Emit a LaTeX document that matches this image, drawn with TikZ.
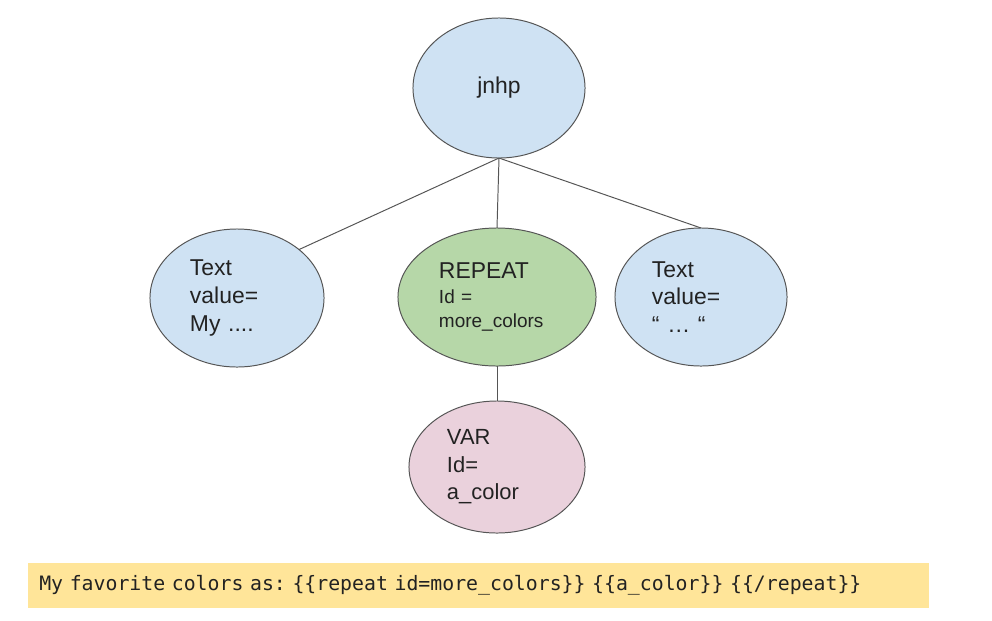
\documentclass[tikz,border=0pt]{standalone}
\usepackage{fontspec}
\setmainfont{Liberation Sans}
\newfontfamily\codefont{DejaVu Sans Mono}
\usetikzlibrary{shapes.geometric}
\usepackage{xcolor}
\definecolor{nodeblue}{HTML}{CFE2F3}
\definecolor{nodegreen}{HTML}{B6D7A8}
\definecolor{nodepink}{HTML}{EAD1DC}
\definecolor{codeyellow}{HTML}{FFE599}
\definecolor{linegray}{HTML}{555555}
\definecolor{textgray}{HTML}{222222}

\begin{document}
\begin{tikzpicture}[x=0.025cm,y=-0.025cm]
    \useasboundingbox (0,0) rectangle (992,620);
    \begin{scope}[inner sep=0pt, outer sep=0pt, text=textgray]
      \tikzstyle{every node}=[ellipse, draw=linegray, line width=0.7pt, align=left, font=\fontsize{16.3}{19.8}\selectfont]
      \node[fill=nodeblue, minimum width=4.3cm, minimum height=3.5cm]   (jnhp)   at (499,88)  {jnhp};
      \node[fill=nodeblue, minimum width=4.35cm, minimum height=3.45cm, text width=2.35cm] (textL) at (237,298) {Text\\value=\\My ....};
      \node[fill=nodegreen, minimum width=4.95cm, minimum height=3.45cm, text width=2.9cm, font=\fontsize{13.5}{17.7}\selectfont] (repeat) at (497,297) {{\fontsize{16.3}{17.7}\selectfont REPEAT}\\Id =\\more\_colors};
      \node[fill=nodeblue, minimum width=4.3cm, minimum height=3.45cm, text width=2.45cm] (textR) at (701,297) {Text\\value=\\“ … “};
      \node[fill=nodepink, minimum width=4.4cm, minimum height=3.3cm, text width=2.5cm, font=\fontsize{15.6}{19.5}\selectfont] (var) at (497,467) {VAR\\Id=\\a\_color};
    \end{scope}
    \draw[linegray, line width=0.7pt]  (jnhp.south) -- (textL.38)  ;
    \draw[linegray, line width=0.7pt]  (jnhp.south) -- (repeat.north)  ;
    \draw[linegray, line width=0.7pt]  (jnhp.south) -- (textR.north)  ;
    \draw[linegray, line width=0.7pt]  (repeat.south) -- (var.north)  ;
    % template line
    \node[fill=codeyellow, text=textgray, anchor=west, minimum width=22.5cm, minimum height=1.125cm, inner xsep=0.275cm, inner ysep=0pt, text width=21.95cm, align=left, font=\codefont\fontsize{14.1}{16}\selectfont\frenchspacing] (code) at (28,585) {My favorite colors as: \{\{repeat id=more\_colors\}\} \{\{a\_color\}\} \{\{/repeat\}\}};
  \end{tikzpicture}
\end{document}
